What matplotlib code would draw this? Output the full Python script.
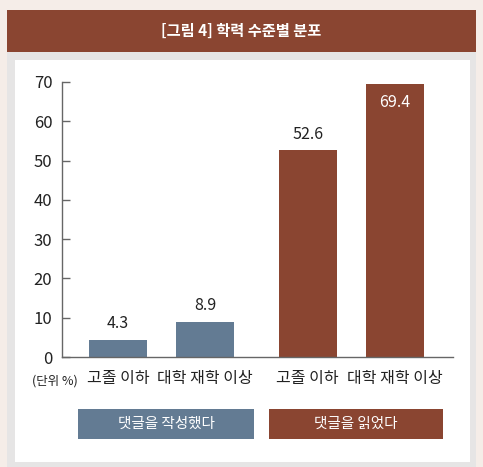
import matplotlib
matplotlib.use("Agg")
import matplotlib.pyplot as plt
from matplotlib.patches import Rectangle

plt.rcParams['font.family'] = ['Noto Sans CJK KR', 'DejaVu Sans']

# ---- data ----
title = "[그림 4] 학력 수준별 분포"
categories = ["고졸 이하", "대학 재학 이상", "고졸 이하", "대학 재학 이상"]
series_names = ["댓글을 작성했다", "댓글을 읽었다"]
wrote_values = [4.3, 8.9]
read_values = [52.6, 69.4]
y_ticks = [0, 10, 20, 30, 40, 50, 60, 70]
unit_label = "(단위 %)"

# ---- style ----
BROWN = "#8A4531"
BLUE = "#637B93"
BEIGE = "#F5EDE8"
GRAYFRAME = "#E6E5E5"
TEXT = "#222222"

W, H = 483, 467
fig = plt.figure(figsize=(W / 100, H / 100), dpi=100, facecolor=BEIGE)

def px_rect(x0, y0, x1, y1, color, z=-10):
    fig.patches.append(Rectangle((x0 / W, 1 - y1 / H), (x1 - x0) / W, (y1 - y0) / H,
                                 transform=fig.transFigure, facecolor=color,
                                 edgecolor='none', zorder=z))

def px_text(x, y, s, **kw):
    fig.text(x / W, 1 - y / H, s, ha='center', va='center', zorder=20, **kw)

# frames
px_rect(7, 10, 476, 52, BROWN, -10)
px_rect(7, 52, 476, 467, GRAYFRAME, -10)
px_rect(15, 60, 470, 462, "white", -9)
px_text(241.5, 31, title, color="white", fontsize=11, fontweight='bold')

# axes placement in pixels
ax_left, ax_right, ax_top, ax_bottom = 62, 453, 82, 357
ax = fig.add_axes([ax_left / W, 1 - ax_bottom / H, (ax_right - ax_left) / W,
                   (ax_bottom - ax_top) / H])
ax.set_zorder(5)
ax.set_facecolor('none')

positions = [0, 1, 2.175, 3.175]
width = 0.665
values = wrote_values + read_values
colors = [BLUE] * len(wrote_values) + [BROWN] * len(read_values)
ax.bar(positions, values, width=width, color=colors, zorder=2)

ax.set_ylim(0, 70)
ax.set_xlim(-0.642, 3.84)
ax.set_yticks(y_ticks)
ax.set_yticklabels([str(t) for t in y_ticks], fontsize=12, color=TEXT)
ax.tick_params(axis='y', direction='in', length=6, width=1, color='#666666', pad=7)
ax.set_xticks(positions)
ax.set_xticklabels(categories, fontsize=11.5, color=TEXT)
ax.tick_params(axis='x', length=0, pad=9)
for s in ['top', 'right']:
    ax.spines[s].set_visible(False)
for s in ['left', 'bottom']:
    ax.spines[s].set_color('#666666')
    ax.spines[s].set_linewidth(1)

# value labels
for i, (p, v) in enumerate(zip(positions, values)):
    if v > 60:
        ax.text(p, v - 4.5, f"{v}", ha='center', va='center', color='white', fontsize=11.5)
    else:
        ax.text(p, v + 4.1, f"{v}", ha='center', va='center', color=TEXT, fontsize=11.5)

px_text(55, 381, unit_label, color=TEXT, fontsize=9)

# legend boxes
px_rect(78, 409, 254, 439, BLUE, -5)
px_rect(269, 409, 443, 439, BROWN, -5)
px_text(166, 424, series_names[0], color='white', fontsize=10.5)
px_text(356, 424, series_names[1], color='white', fontsize=10.5)

fig.savefig("out.png", dpi=100, facecolor=BEIGE)
